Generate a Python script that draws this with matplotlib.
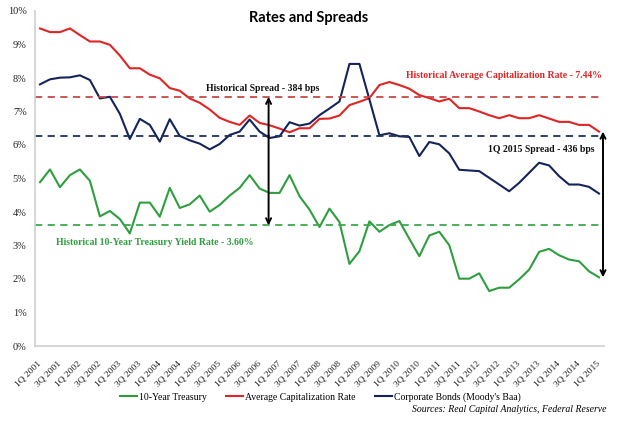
import numpy as np
import matplotlib
matplotlib.use("Agg")
import matplotlib.pyplot as plt

# --- Data (quarterly, 1Q 2001 .. 1Q 2015) ---
quarters = [f"{q}Q {y}" for y in range(2001, 2016) for q in (1, 2, 3, 4)][:57]

treasury = [4.89, 5.27, 4.74, 5.10, 5.27, 4.93, 3.87, 4.03, 3.79, 3.36,
            4.28, 4.28, 3.86, 4.72, 4.12, 4.23, 4.49, 4.01, 4.21, 4.49,
            4.72, 5.10, 4.70, 4.57, 4.57, 5.10, 4.47, 4.07, 3.55, 4.10,
            3.70, 2.45, 2.83, 3.72, 3.41, 3.61, 3.73, 3.20, 2.68, 3.30,
            3.41, 3.01, 2.01, 2.01, 2.17, 1.64, 1.74, 1.74, 1.99, 2.28,
            2.81, 2.90, 2.71, 2.58, 2.53, 2.23, 2.05]

cap_rate = [9.48, 9.37, 9.37, 9.48, 9.28, 9.09, 9.09, 8.99, 8.67, 8.29,
            8.29, 8.10, 7.99, 7.70, 7.62, 7.39, 7.26, 7.06, 6.81, 6.69,
            6.60, 6.88, 6.66, 6.59, 6.49, 6.38, 6.50, 6.50, 6.78, 6.79,
            6.88, 7.19, 7.29, 7.40, 7.79, 7.88, 7.79, 7.68, 7.49, 7.40,
            7.30, 7.38, 7.10, 7.10, 7.00, 6.89, 6.80, 6.89, 6.80, 6.80,
            6.89, 6.79, 6.69, 6.69, 6.60, 6.60, 6.40]

baa = [7.81, 7.96, 8.01, 8.02, 8.08, 7.94, 7.39, 7.44, 6.93, 6.18,
       6.78, 6.60, 6.10, 6.77, 6.27, 6.14, 6.04, 5.87, 6.03, 6.30,
       6.40, 6.76, 6.40, 6.21, 6.26, 6.68, 6.58, 6.64, 6.89, 7.09,
       7.30, 8.42, 8.42, 7.36, 6.29, 6.35, 6.26, 6.24, 5.67, 6.09,
       6.02, 5.75, 5.26, 5.24, 5.22, 5.02, 4.82, 4.62, 4.87, 5.17,
       5.47, 5.39, 5.07, 4.82, 4.82, 4.75, 4.55]

hist_cap = 7.44
hist_baa = 6.28
hist_tsy = 3.60
spread_quarter = 22.9   # position of the historical spread arrow

# --- Style ---
GREEN = "#2e9e3e"
RED = "#e02424"
NAVY = "#14245a"
SERIF = "Liberation Serif"

fig = plt.figure(figsize=(6.18, 4.21), dpi=100)
ax = fig.add_axes([35 / 618, 75 / 421, 569 / 618, 335 / 421])

x = np.arange(len(quarters))
ax.plot(x, treasury, color=GREEN, lw=1.5, label="10-Year Treasury")
ax.plot(x, cap_rate, color=RED, lw=1.5, label="Average Capitalization Rate")
ax.plot(x, baa, color=NAVY, lw=1.5, label="Corporate Bonds (Moody's Baa)")

# historical averages
ax.axhline(hist_cap, xmin=0, xmax=0.995, color="#c84848", lw=1.3, ls=(0, (4, 3)))
ax.axhline(hist_baa, xmin=0, xmax=0.995, color="#1f3060", lw=1.3, ls=(0, (4, 3)))
ax.axhline(hist_tsy, xmin=0, xmax=1.0, color="#3aaa4a", lw=1.3, ls=(0, (4, 3)))

# spread arrows
arrow = dict(arrowstyle="<->", color="black", lw=1.4, mutation_scale=9,
             shrinkA=0, shrinkB=0)
ax.annotate("", xy=(spread_quarter, hist_tsy), xytext=(spread_quarter, hist_cap),
            arrowprops=arrow)
ax.annotate("", xy=(len(quarters) - 0.6, treasury[-1]),
            xytext=(len(quarters) - 0.6, cap_rate[-1]), arrowprops=arrow)

# annotations
ax.text(22.3, 7.68, "Historical Spread - 384 bps", family=SERIF, weight="bold",
        fontsize=7, ha="center", va="center", color="#111111")
ax.text(56.3, 8.08, "Historical Average Capitalization Rate - 7.44%", family=SERIF,
        weight="bold", fontsize=7, ha="right", va="center", color=RED)
ax.text(55.5, 5.86, "1Q 2015 Spread - 436 bps", family=SERIF, weight="bold",
        fontsize=7, ha="right", va="center", color="#111111")
ax.text(1.6, 3.09, "Historical 10-Year Treasury Yield Rate - 3.60%", family=SERIF,
        weight="bold", fontsize=7, ha="left", va="center", color=GREEN)

# axes
ax.set_xlim(-0.5, len(quarters) - 0.5)
ax.set_ylim(0, 10)
ax.set_yticks(range(0, 11))
ax.set_yticklabels([f"{v}%" for v in range(0, 11)], family=SERIF, fontsize=7.5)
ax.set_xticks(x[::2])
ax.set_xticklabels(quarters[::2], rotation=45, ha="right", va="center",
                   rotation_mode="anchor", family=SERIF, fontsize=6.8)
ax.tick_params(axis="y", length=0, pad=6, colors="#222222")
ax.tick_params(axis="x", length=0, pad=12, colors="#222222")
for side in ("top", "right"):
    ax.spines[side].set_visible(False)
for side in ("left", "bottom"):
    ax.spines[side].set_color("#d0d0d0")
    ax.spines[side].set_linewidth(1.2)

fig.text(0.5, 0.957, "Rates and Spreads", ha="center", va="center",
         family="Lato", weight="bold", fontsize=10.5)

leg = fig.legend(loc="center", bbox_to_anchor=(0.518, 0.057), ncol=3, frameon=False,
                 prop={"family": SERIF, "size": 7}, handlelength=1.8,
                 handletextpad=0.15, columnspacing=2.0)

fig.text(0.982, 0.027, "Sources: Real Capital Analytics, Federal Reserve",
         ha="right", va="center", family=SERIF, style="italic", fontsize=7)

fig.savefig("out.png", dpi=100)
